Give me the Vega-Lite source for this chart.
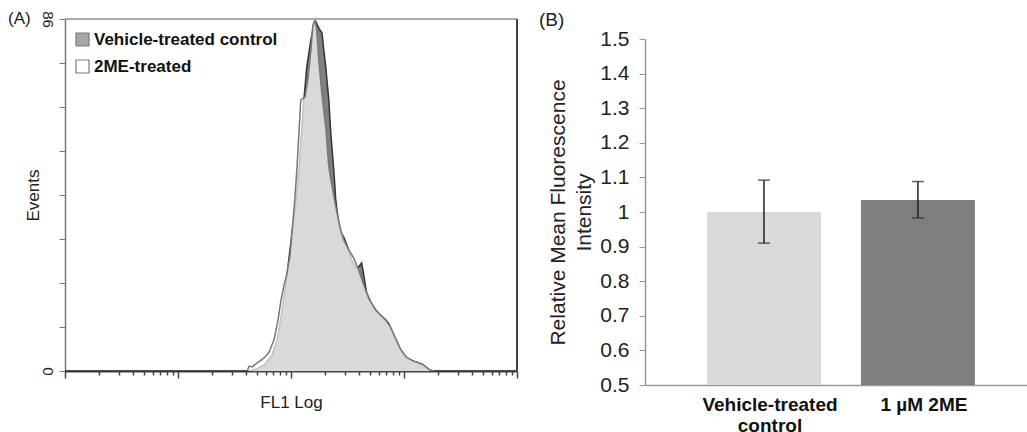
{
  "$schema": "https://vega.github.io/schema/vega-lite/v6.json",
  "background": "white",
  "padding": {"left": 8, "top": 9, "right": 0, "bottom": 0},
  "spacing": 19,
  "config": {
    "font": "Liberation Sans",
    "view": {"stroke": null},
    "axis": {"labelFont": "Liberation Sans", "titleFont": "Liberation Sans", "grid": false}
  },
  "datasets": {
    "hist": [
      {"sample": "Vehicle-treated control", "fl1": 1, "events": 0},
      {"sample": "Vehicle-treated control", "fl1": 20, "events": 0},
      {"sample": "Vehicle-treated control", "fl1": 42.6, "events": 0},
      {"sample": "Vehicle-treated control", "fl1": 49.2, "events": 0.5},
      {"sample": "Vehicle-treated control", "fl1": 57.8, "events": 1.5},
      {"sample": "Vehicle-treated control", "fl1": 68, "events": 3.9},
      {"sample": "Vehicle-treated control", "fl1": 75.3, "events": 7.6},
      {"sample": "Vehicle-treated control", "fl1": 81.6, "events": 13.2},
      {"sample": "Vehicle-treated control", "fl1": 90.3, "events": 21.5},
      {"sample": "Vehicle-treated control", "fl1": 102, "events": 33.7},
      {"sample": "Vehicle-treated control", "fl1": 111, "events": 41.8},
      {"sample": "Vehicle-treated control", "fl1": 118, "events": 49.8},
      {"sample": "Vehicle-treated control", "fl1": 130, "events": 66.2},
      {"sample": "Vehicle-treated control", "fl1": 138, "events": 74.3},
      {"sample": "Vehicle-treated control", "fl1": 150, "events": 80.9},
      {"sample": "Vehicle-treated control", "fl1": 163, "events": 85.8},
      {"sample": "Vehicle-treated control", "fl1": 173, "events": 84.3},
      {"sample": "Vehicle-treated control", "fl1": 180, "events": 83.3},
      {"sample": "Vehicle-treated control", "fl1": 188, "events": 82.6},
      {"sample": "Vehicle-treated control", "fl1": 195, "events": 78.4},
      {"sample": "Vehicle-treated control", "fl1": 203, "events": 74.3},
      {"sample": "Vehicle-treated control", "fl1": 216, "events": 66.2},
      {"sample": "Vehicle-treated control", "fl1": 225, "events": 58.1},
      {"sample": "Vehicle-treated control", "fl1": 239, "events": 49.1},
      {"sample": "Vehicle-treated control", "fl1": 249, "events": 41.8},
      {"sample": "Vehicle-treated control", "fl1": 265, "events": 35.7},
      {"sample": "Vehicle-treated control", "fl1": 276, "events": 33.7},
      {"sample": "Vehicle-treated control", "fl1": 293, "events": 32.7},
      {"sample": "Vehicle-treated control", "fl1": 324, "events": 29.6},
      {"sample": "Vehicle-treated control", "fl1": 345, "events": 27.1},
      {"sample": "Vehicle-treated control", "fl1": 374, "events": 25.2},
      {"sample": "Vehicle-treated control", "fl1": 397, "events": 25.4},
      {"sample": "Vehicle-treated control", "fl1": 422, "events": 26.4},
      {"sample": "Vehicle-treated control", "fl1": 440, "events": 23.5},
      {"sample": "Vehicle-treated control", "fl1": 467, "events": 19.1},
      {"sample": "Vehicle-treated control", "fl1": 507, "events": 16.9},
      {"sample": "Vehicle-treated control", "fl1": 561, "events": 14.9},
      {"sample": "Vehicle-treated control", "fl1": 634, "events": 13.4},
      {"sample": "Vehicle-treated control", "fl1": 687, "events": 12.5},
      {"sample": "Vehicle-treated control", "fl1": 730, "events": 11.7},
      {"sample": "Vehicle-treated control", "fl1": 808, "events": 8.8},
      {"sample": "Vehicle-treated control", "fl1": 895, "events": 5.9},
      {"sample": "Vehicle-treated control", "fl1": 991, "events": 3.9},
      {"sample": "Vehicle-treated control", "fl1": 1096, "events": 2.9},
      {"sample": "Vehicle-treated control", "fl1": 1343, "events": 1.95},
      {"sample": "Vehicle-treated control", "fl1": 1547, "events": 1.0},
      {"sample": "Vehicle-treated control", "fl1": 1712, "events": 0},
      {"sample": "Vehicle-treated control", "fl1": 10000, "events": 0},
      {"sample": "2ME-treated", "fl1": 41.0, "events": 0},
      {"sample": "2ME-treated", "fl1": 42.6, "events": 1.2},
      {"sample": "2ME-treated", "fl1": 45.3, "events": 1.0},
      {"sample": "2ME-treated", "fl1": 50.2, "events": 2.0},
      {"sample": "2ME-treated", "fl1": 57.8, "events": 3.2},
      {"sample": "2ME-treated", "fl1": 64.0, "events": 4.6},
      {"sample": "2ME-treated", "fl1": 70.8, "events": 7.6},
      {"sample": "2ME-treated", "fl1": 76.8, "events": 12.5},
      {"sample": "2ME-treated", "fl1": 81.6, "events": 17.3},
      {"sample": "2ME-treated", "fl1": 86.8, "events": 21.0},
      {"sample": "2ME-treated", "fl1": 92.2, "events": 23.9},
      {"sample": "2ME-treated", "fl1": 98.0, "events": 28.3},
      {"sample": "2ME-treated", "fl1": 102, "events": 33.7},
      {"sample": "2ME-treated", "fl1": 108, "events": 41.8},
      {"sample": "2ME-treated", "fl1": 113, "events": 49.8},
      {"sample": "2ME-treated", "fl1": 118, "events": 58.9},
      {"sample": "2ME-treated", "fl1": 122, "events": 66.2},
      {"sample": "2ME-treated", "fl1": 133, "events": 66.9},
      {"sample": "2ME-treated", "fl1": 141, "events": 71.1},
      {"sample": "2ME-treated", "fl1": 150, "events": 78.4},
      {"sample": "2ME-treated", "fl1": 156, "events": 84.5},
      {"sample": "2ME-treated", "fl1": 163, "events": 85.8},
      {"sample": "2ME-treated", "fl1": 169, "events": 83.3},
      {"sample": "2ME-treated", "fl1": 176, "events": 76.0},
      {"sample": "2ME-treated", "fl1": 188, "events": 67.4},
      {"sample": "2ME-treated", "fl1": 203, "events": 59.6},
      {"sample": "2ME-treated", "fl1": 216, "events": 49.8},
      {"sample": "2ME-treated", "fl1": 234, "events": 44.2},
      {"sample": "2ME-treated", "fl1": 249, "events": 40.1},
      {"sample": "2ME-treated", "fl1": 276, "events": 34.4},
      {"sample": "2ME-treated", "fl1": 293, "events": 32.0},
      {"sample": "2ME-treated", "fl1": 324, "events": 29.6},
      {"sample": "2ME-treated", "fl1": 359, "events": 27.6},
      {"sample": "2ME-treated", "fl1": 397, "events": 24.7},
      {"sample": "2ME-treated", "fl1": 440, "events": 21.0},
      {"sample": "2ME-treated", "fl1": 487, "events": 17.8},
      {"sample": "2ME-treated", "fl1": 561, "events": 14.9},
      {"sample": "2ME-treated", "fl1": 634, "events": 13.4},
      {"sample": "2ME-treated", "fl1": 687, "events": 12.5},
      {"sample": "2ME-treated", "fl1": 760, "events": 10.7},
      {"sample": "2ME-treated", "fl1": 841, "events": 8.1},
      {"sample": "2ME-treated", "fl1": 931, "events": 5.4},
      {"sample": "2ME-treated", "fl1": 1052, "events": 3.4},
      {"sample": "2ME-treated", "fl1": 1213, "events": 2.4},
      {"sample": "2ME-treated", "fl1": 1455, "events": 1.7},
      {"sample": "2ME-treated", "fl1": 1644, "events": 0.5},
      {"sample": "2ME-treated", "fl1": 1820, "events": 0}
    ],
    "mfi": [
      {"group": "Vehicle-treated control", "mean": 1.0, "lo": 0.91, "hi": 1.092},
      {"group": "1 µM 2ME", "mean": 1.035, "lo": 0.983, "hi": 1.088}
    ]
  },
  "hconcat": [
    {
      "width": 452,
      "height": 352,
      "data": {"name": "hist"},
      "title": {"text": "(A)", "anchor": "start", "frame": "group", "orient": "top", "offset": 0, "baseline": "middle", "dx": -57, "dy": 25, "fontSize": 17, "fontWeight": "normal", "color": "#222", "font": "Liberation Sans"},
      "encoding": {
        "x": {
          "field": "fl1", "type": "quantitative",
          "scale": {"type": "log", "domain": [1, 10000], "nice": false},
          "axis": {
            "values": [1,2,3,4,5,6,7,8,9,10,20,30,40,50,60,70,80,90,100,200,300,400,500,600,700,800,900,1000,2000,3000,4000,5000,6000,7000,8000,9000,10000],
            "labels": false,
            "tickSize": {"condition": {"test": "abs(log(datum.value)/LN10 - round(log(datum.value)/LN10)) < 0.001", "value": 7}, "value": 4},
            "tickColor": "#444", "tickWidth": 1.5,
            "domainColor": "#444", "domainWidth": 2,
            "title": "FL1 Log", "titleFontSize": 17, "titleFontWeight": "normal", "titleColor": "#222", "titlePadding": 16
          }
        },
        "y": {
          "field": "events", "type": "quantitative",
          "scale": {"domain": [0, 86], "nice": false},
          "axis": {
            "values": [0, 10.75, 21.5, 32.25, 43, 53.75, 64.5, 75.25, 86],
            "labelExpr": "datum.value == 0 || datum.value == 86 ? datum.label : ''",
            "labelAngle": 90, "labelAlign": "center", "labelBaseline": "top",
            "labelFontSize": 15, "labelColor": "#222", "labelPadding": 5,
            "tickSize": 6, "tickColor": "#777", "domainColor": "#777", "domainWidth": 1.5,
            "title": "Events", "titleFontSize": 17, "titleFontWeight": "normal", "titleColor": "#222", "titlePadding": -3
          }
        }
      },
      "layer": [
        {
          "transform": [{"filter": "datum.sample == 'Vehicle-treated control'"}],
          "mark": {"type": "area", "opacity": 1},
          "encoding": {
            "color": {
              "field": "sample", "type": "nominal",
              "scale": {"domain": ["Vehicle-treated control", "2ME-treated"], "range": ["#808080", "#ffffff"]},
              "legend": {"title": null, "orient": "none", "legendX": 9, "legendY": 12, "padding": 0,
                "labelFontSize": 17, "labelFontWeight": "bold", "labelFont": "Liberation Sans", "labelColor": "#111", "labelLimit": 400,
                "symbolType": "square", "symbolSize": 169, "symbolStrokeColor": "#444", "symbolStrokeWidth": 1.2,
                "symbolOpacity": 1, "rowPadding": 8, "labelOffset": 3}
            }
          }
        },
        {
          "transform": [{"filter": "datum.sample == 'Vehicle-treated control'"}],
          "mark": {"type": "line", "color": "#333", "strokeWidth": 1.5}
        },
        {
          "transform": [{"filter": "datum.sample == '2ME-treated'"}],
          "mark": {"type": "area", "opacity": 0.7},
          "encoding": {"color": {"field": "sample", "type": "nominal"}}
        },
        {
          "transform": [{"filter": "datum.sample == '2ME-treated'"}],
          "mark": {"type": "line", "color": "#777", "strokeWidth": 1.5}
        },
        {
          "mark": {"type": "rule", "color": "#aaa", "strokeWidth": 2},
          "encoding": {"y": {"datum": 86}, "x": null}
        },
        {
          "mark": {"type": "rule", "color": "#444", "strokeWidth": 2},
          "encoding": {"x": {"datum": 10000}, "y": null}
        }
      ]
    },
    {
      "width": 384,
      "height": 366,
      "data": {"name": "mfi"},
      "title": {"text": "(B)", "anchor": "start", "frame": "group", "orient": "top", "offset": 0, "baseline": "middle", "dx": -106, "dy": 20, "fontSize": 19, "fontWeight": "normal", "color": "#222", "font": "Liberation Sans"},
      "encoding": {
        "x": {
          "field": "group", "type": "nominal", "sort": ["Vehicle-treated control", "1 µM 2ME"],
          "scale": {"paddingInner": 0.26, "paddingOuter": 0.377, "align": 0.534},
          "axis": {
            "title": null, "labelAngle": 0, "ticks": false,
            "labelExpr": "datum.label == 'Vehicle-treated control' ? ['Vehicle-treated', 'control'] : datum.label",
            "labelFontSize": 19, "labelFontWeight": "bold", "labelColor": "#111", "labelPadding": 10, "labelLineHeight": 21, "labelOffset": 6,
            "domainColor": "#999", "domainWidth": 1.5
          }
        }
      },
      "layer": [
        {
          "mark": {"type": "bar"},
          "encoding": {
            "y": {
              "field": "mean", "type": "quantitative",
              "scale": {"domain": [0.5, 1.5], "range": [366, 20], "nice": false, "zero": false},
              "axis": {
                "values": [0.5, 0.6, 0.7, 0.8, 0.9, 1.0, 1.1, 1.2, 1.3, 1.4, 1.5],
                "format": ".1~f", "labelOverlap": false,
                "labelFontSize": 21, "labelColor": "#222", "labelPadding": 10,
                "tickSize": 6, "tickColor": "#999", "domainColor": "#999", "domainWidth": 1.5,
                "title": ["Relative Mean Fluorescence", "Intensity"], "titleFontSize": 21, "titleFontWeight": "normal", "titleColor": "#222", "titleLineHeight": 26, "titlePadding": 5
              }
            },
            "y2": {"datum": 0.5},
            "color": {
              "field": "group", "type": "nominal",
              "scale": {"domain": ["Vehicle-treated control", "1 µM 2ME"], "range": ["#d9d9d9", "#7f7f7f"]},
              "legend": null
            }
          }
        },
        {
          "mark": {"type": "rule", "color": "#222", "strokeWidth": 1.5},
          "encoding": {
            "y": {"field": "lo", "type": "quantitative",
              "axis": {
                "values": [0.5, 0.6, 0.7, 0.8, 0.9, 1.0, 1.1, 1.2, 1.3, 1.4, 1.5],
                "format": ".1~f", "labelOverlap": false,
                "labelFontSize": 21, "labelColor": "#222", "labelPadding": 10,
                "tickSize": 6, "tickColor": "#999", "domainColor": "#999", "domainWidth": 1.5,
                "title": ["Relative Mean Fluorescence", "Intensity"], "titleFontSize": 21, "titleFontWeight": "normal", "titleColor": "#222", "titleLineHeight": 26, "titlePadding": 5
              }},
            "y2": {"field": "hi"}
          }
        },
        {
          "mark": {"type": "tick", "color": "#222", "size": 12, "thickness": 1.5},
          "encoding": {"y": {"field": "lo", "type": "quantitative",
              "axis": {
                "values": [0.5, 0.6, 0.7, 0.8, 0.9, 1.0, 1.1, 1.2, 1.3, 1.4, 1.5],
                "format": ".1~f", "labelOverlap": false,
                "labelFontSize": 21, "labelColor": "#222", "labelPadding": 10,
                "tickSize": 6, "tickColor": "#999", "domainColor": "#999", "domainWidth": 1.5,
                "title": ["Relative Mean Fluorescence", "Intensity"], "titleFontSize": 21, "titleFontWeight": "normal", "titleColor": "#222", "titleLineHeight": 26, "titlePadding": 5
              }}}
        },
        {
          "mark": {"type": "tick", "color": "#222", "size": 12, "thickness": 1.5},
          "encoding": {"y": {"field": "hi", "type": "quantitative",
              "axis": {
                "values": [0.5, 0.6, 0.7, 0.8, 0.9, 1.0, 1.1, 1.2, 1.3, 1.4, 1.5],
                "format": ".1~f", "labelOverlap": false,
                "labelFontSize": 21, "labelColor": "#222", "labelPadding": 10,
                "tickSize": 6, "tickColor": "#999", "domainColor": "#999", "domainWidth": 1.5,
                "title": ["Relative Mean Fluorescence", "Intensity"], "titleFontSize": 21, "titleFontWeight": "normal", "titleColor": "#222", "titleLineHeight": 26, "titlePadding": 5
              }}}
        }
      ]
    }
  ],
  "resolve": {"scale": {"color": "independent"}, "legend": {"color": "independent"}}
}
